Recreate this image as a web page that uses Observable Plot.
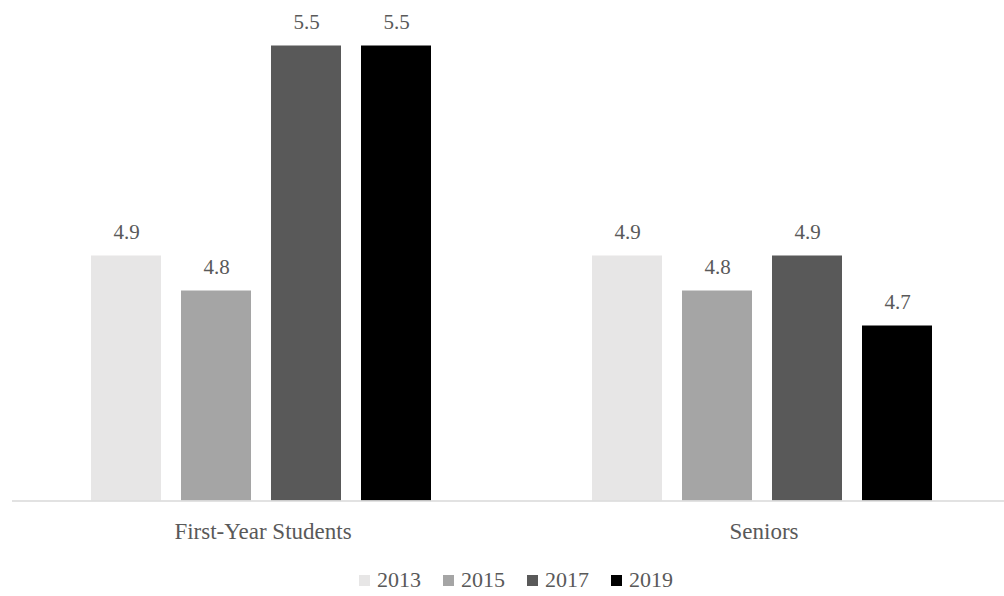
<!DOCTYPE html>
<html>
<head>
<meta charset="utf-8">
<script src="https://cdn.jsdelivr.net/npm/d3@7"></script>
<script src="https://cdn.jsdelivr.net/npm/@observablehq/plot@0.6"></script>
<style>
  html, body { margin: 0; padding: 0; background: #fff; }
  body { width: 1004px; height: 596px; overflow: hidden; font-family: "Liberation Serif", Tinos, "Times New Roman", Times, "DejaVu Serif", serif; }
  #legend { display: flex; justify-content: center; gap: 22px; font-size: 22px; color: #595959; margin-top: 12px; padding-left: 28px; }
  #legend .item { display: flex; align-items: center; gap: 7px; }
  #legend .sw { width: 11px; height: 11px; display: inline-block; }
</style>
</head>
<body>
<div id="chart"></div>
<div id="legend"></div>
<script>
const groups = ["First-Year Students", "Seniors"];
const years = ["2013", "2015", "2017", "2019"];
const firstYearValues = [4.9, 4.8, 5.5, 5.5];
const seniorValues = [4.9, 4.8, 4.9, 4.7];
const colors = ["#e7e6e6", "#a5a5a5", "#595959", "#000000"];

const seriesByGroup = [firstYearValues, seniorValues];
const data = [];
groups.forEach((g, gi) => years.forEach((y, yi) => data.push({group: g, year: y, value: seriesByGroup[gi][yi]})));

const fontStack = '"Liberation Serif", Tinos, "Times New Roman", Times, "DejaVu Serif", serif';
const yMin = 4.2;
const chart = Plot.plot({
  width: 1004,
  height: 555,
  marginTop: 10.5,
  marginBottom: 54.5,
  marginLeft: 10,
  marginRight: 0,
  style: {fontFamily: fontStack, fontSize: "23px", color: "#595959", background: "#fff"},
  fx: {domain: groups, range: [10.75, 1014.25], padding: 0, label: null, axis: "bottom", tickSize: 0, tickPadding: 22},
  x: {domain: years, paddingInner: 0.223, paddingOuter: 0.875, align: 0.488, axis: null},
  y: {domain: [yMin, 5.6], axis: null},
  color: {domain: years, range: colors},
  marks: [
    Plot.barY(data, {fx: "group", x: "year", y1: () => yMin, y2: "value", fill: "year"}),
    Plot.ruleY([yMin], {stroke: "#d9d9d9", strokeWidth: 1.5}),
    Plot.text(data, {fx: "group", x: "year", y: "value", text: d => d.value.toFixed(1), lineAnchor: "bottom", dy: -17, fill: "#595959", fontSize: 21, fontFamily: fontStack})
  ]
});
document.getElementById("chart").appendChild(chart);

const legend = document.getElementById("legend");
years.forEach((y, i) => {
  const item = document.createElement("span");
  item.className = "item";
  const sw = document.createElement("span");
  sw.className = "sw";
  sw.style.background = colors[i];
  item.appendChild(sw);
  item.appendChild(document.createTextNode(y));
  legend.appendChild(item);
});
</script>
</body>
</html>
